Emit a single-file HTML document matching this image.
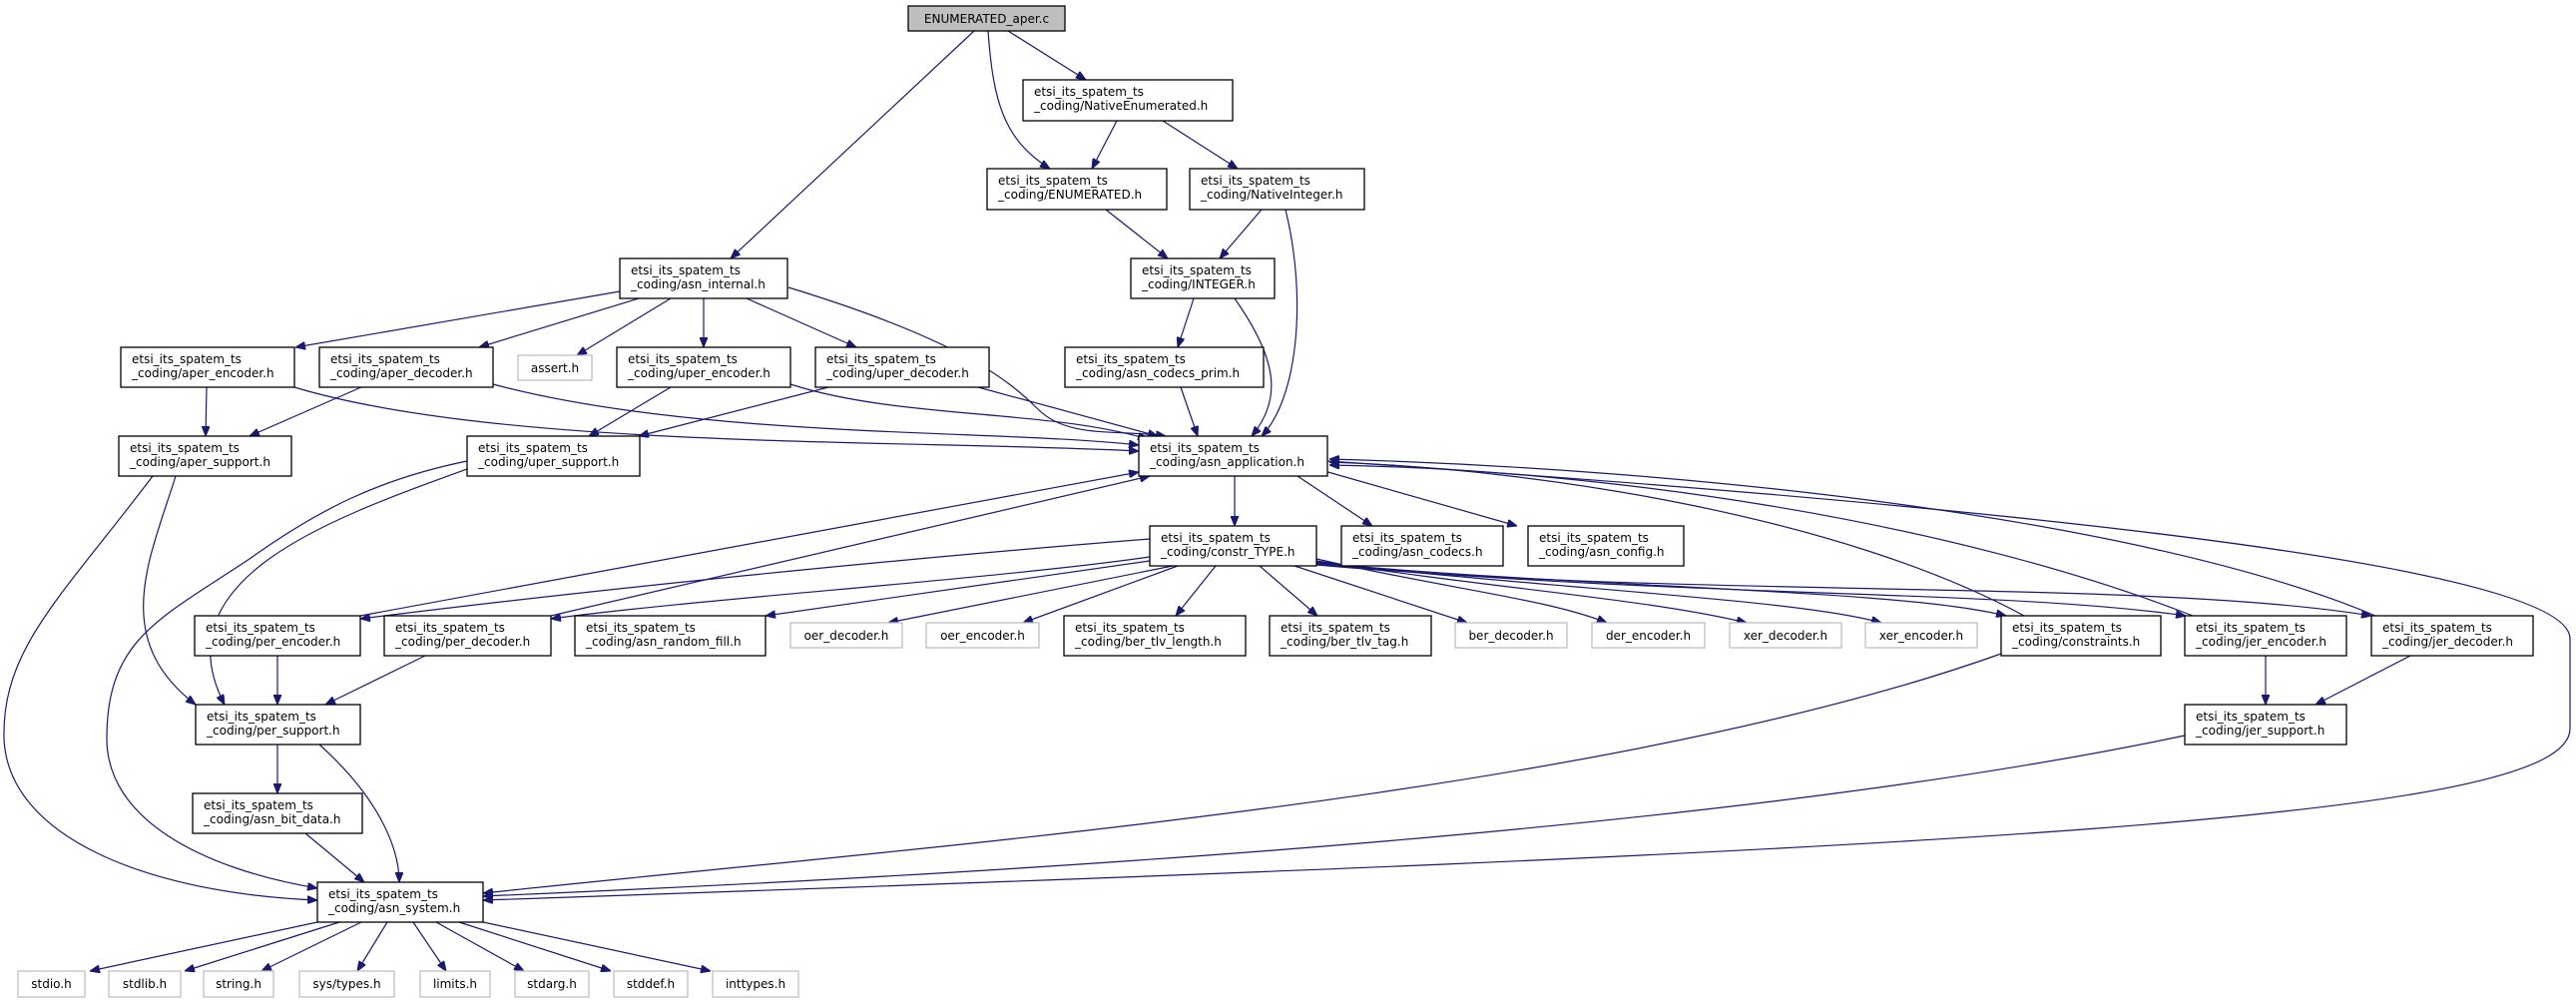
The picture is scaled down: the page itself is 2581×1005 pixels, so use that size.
<!DOCTYPE html>
<html><head><meta charset="utf-8"><style>
html,body{margin:0;padding:0;background:#fff;}
svg{display:block;}
text{font-family:"DejaVu Sans","Liberation Sans",sans-serif;font-size:12px;fill:#000;}
.e{fill:none;stroke:#191970;stroke-width:1.2;}
.n{fill:#fff;stroke:#000;stroke-width:1.3;}
.g{fill:#fff;stroke:#bfbfbf;stroke-width:1.3;}
</style></head><body>
<svg width="2581" height="1005" viewBox="0 0 2581 1005" xmlns="http://www.w3.org/2000/svg">
<defs>
<marker id="a" markerWidth="10" markerHeight="8" refX="10" refY="4" orient="auto" markerUnits="userSpaceOnUse">
<path d="M0,0 L10,4 L0,8 Z" fill="#191970" stroke="#191970"/>
</marker>
</defs>
<g marker-end="url(#a)">
<path class="e" d="M1010,31 L1088,80"/>
<path class="e" d="M990,31 C995,100 1005,140 1052,169"/>
<path class="e" d="M976,31 L732,259"/>
<path class="e" d="M1119,121 L1094,169"/>
<path class="e" d="M1165,121 L1240,169"/>
<path class="e" d="M1108,210 L1170,259"/>
<path class="e" d="M1264,210 L1222,259"/>
<path class="e" d="M1288,210 C1310,300 1300,400 1264,437"/>
<path class="e" d="M1196,299 L1180,348"/>
<path class="e" d="M1237,299 C1280,360 1285,400 1254,437"/>
<path class="e" d="M621,292 L296,348"/>
<path class="e" d="M640,299 L480,348"/>
<path class="e" d="M672,299 L578,356"/>
<path class="e" d="M705,299 L705,348"/>
<path class="e" d="M748,299 L858,348"/>
<path class="e" d="M790,288 C960,340 1010,380 1040,410 C1070,440 1120,430 1168,437"/>
<path class="e" d="M207,388 L206,437"/>
<path class="e" d="M295,388 C500,450 900,440 1141,452"/>
<path class="e" d="M362,388 L250,437"/>
<path class="e" d="M494,385 C700,440 1000,430 1141,446"/>
<path class="e" d="M672,388 L590,437"/>
<path class="e" d="M792,385 C900,420 1050,410 1150,440"/>
<path class="e" d="M830,388 L640,437"/>
<path class="e" d="M980,388 L1160,437"/>
<path class="e" d="M1183,388 L1200,437"/>
<path class="e" d="M153,477 C60,600 2,650 4,740 C8,840 150,895 318,902"/>
<path class="e" d="M468,462 C380,480 320,510 250,560 C160,620 107,640 107,740 C107,820 200,870 318,890"/>
<path class="e" d="M176,477 C150,560 110,640 196,706"/>
<path class="e" d="M468,470 C330,520 160,580 225,706"/>
<path class="e" d="M1237,477 L1237,527"/>
<path class="e" d="M1300,477 L1375,527"/>
<path class="e" d="M1320,470 L1520,527"/>
<path class="e" d="M1330,462 C1900,500 2575,560 2575,640 L2575,730 C2575,820 2000,850 484,902"/>
<path class="e" d="M2028,617 C1850,520 1550,470 1332,463"/>
<path class="e" d="M2197,617 C1950,520 1600,470 1332,466"/>
<path class="e" d="M2380,617 C2150,520 1700,470 1332,460"/>
<path class="e" d="M361,617 L1141,473"/>
<path class="e" d="M552,617 L1152,477"/>
<path class="e" d="M1152,540 C900,560 600,590 361,620"/>
<path class="e" d="M1152,558 C1000,580 700,600 552,620"/>
<path class="e" d="M1152,562 L767,617"/>
<path class="e" d="M1175,567 L890,624"/>
<path class="e" d="M1180,567 L1025,624"/>
<path class="e" d="M1218,567 L1178,617"/>
<path class="e" d="M1262,567 L1320,617"/>
<path class="e" d="M1297,567 L1470,624"/>
<path class="e" d="M1319,560 C1450,590 1550,600 1610,624"/>
<path class="e" d="M1319,562 C1500,590 1650,600 1750,624"/>
<path class="e" d="M1319,563 C1550,590 1800,600 1885,624"/>
<path class="e" d="M1319,564 C1600,590 1900,590 2010,617"/>
<path class="e" d="M1319,565 C1700,600 2000,590 2190,617"/>
<path class="e" d="M1319,566 C1700,600 2150,580 2376,617"/>
<path class="e" d="M278,657 L278,706"/>
<path class="e" d="M426,657 L326,706"/>
<path class="e" d="M278,746 L278,795"/>
<path class="e" d="M320,746 C380,800 400,850 400,884"/>
<path class="e" d="M306,835 L365,884"/>
<path class="e" d="M2005,655 C1600,800 900,850 484,895"/>
<path class="e" d="M2189,737 C1700,840 900,880 484,898"/>
<path class="e" d="M2270,657 L2270,706"/>
<path class="e" d="M2415,657 L2320,706"/>
<path class="e" d="M318,924 L90,973"/>
<path class="e" d="M340,924 L185,973"/>
<path class="e" d="M362,924 L262,973"/>
<path class="e" d="M388,924 L358,973"/>
<path class="e" d="M414,924 L447,973"/>
<path class="e" d="M437,924 L525,973"/>
<path class="e" d="M460,924 L612,973"/>
<path class="e" d="M484,924 L712,973"/>
</g>

<rect x="910" y="6" width="157" height="25" fill="#bfbfbf" stroke="#000" stroke-width="1.3"/>
<text x="988.5" y="23" text-anchor="middle">ENUMERATED_aper.c</text>

<g>
<rect class="n" x="1025" y="80" width="210" height="41"/><text x="1036" y="96">etsi_its_spatem_ts</text><text x="1036" y="110">_coding/NativeEnumerated.h</text>
<rect class="n" x="989" y="169" width="180" height="41"/><text x="1000" y="185">etsi_its_spatem_ts</text><text x="1000" y="199">_coding/ENUMERATED.h</text>
<rect class="n" x="1192" y="169" width="175" height="41"/><text x="1203" y="185">etsi_its_spatem_ts</text><text x="1203" y="199">_coding/NativeInteger.h</text>
<rect class="n" x="621" y="259" width="168" height="40"/><text x="632" y="275">etsi_its_spatem_ts</text><text x="632" y="289">_coding/asn_internal.h</text>
<rect class="n" x="1133" y="259" width="144" height="40"/><text x="1144" y="275">etsi_its_spatem_ts</text><text x="1144" y="289">_coding/INTEGER.h</text>
<rect class="n" x="121" y="348" width="174" height="40"/><text x="132" y="364">etsi_its_spatem_ts</text><text x="132" y="378">_coding/aper_encoder.h</text>
<rect class="n" x="320" y="348" width="174" height="40"/><text x="331" y="364">etsi_its_spatem_ts</text><text x="331" y="378">_coding/aper_decoder.h</text>
<rect class="g" x="519" y="356" width="74" height="25"/><text x="556" y="373" text-anchor="middle">assert.h</text>
<rect class="n" x="618" y="348" width="174" height="40"/><text x="629" y="364">etsi_its_spatem_ts</text><text x="629" y="378">_coding/uper_encoder.h</text>
<rect class="n" x="817" y="348" width="174" height="40"/><text x="828" y="364">etsi_its_spatem_ts</text><text x="828" y="378">_coding/uper_decoder.h</text>
<rect class="n" x="1067" y="348" width="199" height="40"/><text x="1078" y="364">etsi_its_spatem_ts</text><text x="1078" y="378">_coding/asn_codecs_prim.h</text>
<rect class="n" x="119" y="437" width="173" height="40"/><text x="130" y="453">etsi_its_spatem_ts</text><text x="130" y="467">_coding/aper_support.h</text>
<rect class="n" x="468" y="437" width="173" height="40"/><text x="479" y="453">etsi_its_spatem_ts</text><text x="479" y="467">_coding/uper_support.h</text>
<rect class="n" x="1141" y="437" width="189" height="40"/><text x="1152" y="453">etsi_its_spatem_ts</text><text x="1152" y="467">_coding/asn_application.h</text>
<rect class="n" x="1152" y="527" width="167" height="40"/><text x="1163" y="543">etsi_its_spatem_ts</text><text x="1163" y="557">_coding/constr_TYPE.h</text>
<rect class="n" x="1344" y="527" width="162" height="40"/><text x="1355" y="543">etsi_its_spatem_ts</text><text x="1355" y="557">_coding/asn_codecs.h</text>
<rect class="n" x="1531" y="527" width="156" height="40"/><text x="1542" y="543">etsi_its_spatem_ts</text><text x="1542" y="557">_coding/asn_config.h</text>
<rect class="n" x="195" y="617" width="166" height="40"/><text x="206" y="633">etsi_its_spatem_ts</text><text x="206" y="647">_coding/per_encoder.h</text>
<rect class="n" x="385" y="617" width="167" height="40"/><text x="396" y="633">etsi_its_spatem_ts</text><text x="396" y="647">_coding/per_decoder.h</text>
<rect class="n" x="576" y="617" width="191" height="40"/><text x="587" y="633">etsi_its_spatem_ts</text><text x="587" y="647">_coding/asn_random_fill.h</text>
<rect class="g" x="792" y="624" width="112" height="25"/><text x="848" y="641" text-anchor="middle">oer_decoder.h</text>
<rect class="g" x="928" y="624" width="113" height="25"/><text x="984.5" y="641" text-anchor="middle">oer_encoder.h</text>
<rect class="n" x="1066" y="617" width="182" height="40"/><text x="1077" y="633">etsi_its_spatem_ts</text><text x="1077" y="647">_coding/ber_tlv_length.h</text>
<rect class="n" x="1272" y="617" width="162" height="40"/><text x="1283" y="633">etsi_its_spatem_ts</text><text x="1283" y="647">_coding/ber_tlv_tag.h</text>
<rect class="g" x="1458" y="624" width="112" height="25"/><text x="1514" y="641" text-anchor="middle">ber_decoder.h</text>
<rect class="g" x="1595" y="624" width="113" height="25"/><text x="1651.5" y="641" text-anchor="middle">der_encoder.h</text>
<rect class="g" x="1733" y="624" width="112" height="25"/><text x="1789" y="641" text-anchor="middle">xer_decoder.h</text>
<rect class="g" x="1869" y="624" width="112" height="25"/><text x="1925" y="641" text-anchor="middle">xer_encoder.h</text>
<rect class="n" x="2005" y="617" width="160" height="40"/><text x="2016" y="633">etsi_its_spatem_ts</text><text x="2016" y="647">_coding/constraints.h</text>
<rect class="n" x="2189" y="617" width="162" height="40"/><text x="2200" y="633">etsi_its_spatem_ts</text><text x="2200" y="647">_coding/jer_encoder.h</text>
<rect class="n" x="2376" y="617" width="162" height="40"/><text x="2387" y="633">etsi_its_spatem_ts</text><text x="2387" y="647">_coding/jer_decoder.h</text>
<rect class="n" x="196" y="706" width="165" height="40"/><text x="207" y="722">etsi_its_spatem_ts</text><text x="207" y="736">_coding/per_support.h</text>
<rect class="n" x="2189" y="706" width="162" height="40"/><text x="2200" y="722">etsi_its_spatem_ts</text><text x="2200" y="736">_coding/jer_support.h</text>
<rect class="n" x="193" y="795" width="170" height="40"/><text x="204" y="811">etsi_its_spatem_ts</text><text x="204" y="825">_coding/asn_bit_data.h</text>
<rect class="n" x="318" y="884" width="166" height="40"/><text x="329" y="900">etsi_its_spatem_ts</text><text x="329" y="914">_coding/asn_system.h</text>
<rect class="g" x="18" y="973" width="67" height="26"/><text x="51.5" y="990" text-anchor="middle">stdio.h</text>
<rect class="g" x="109" y="973" width="72" height="26"/><text x="145" y="990" text-anchor="middle">stdlib.h</text>
<rect class="g" x="204" y="973" width="70" height="26"/><text x="239" y="990" text-anchor="middle">string.h</text>
<rect class="g" x="300" y="973" width="95" height="26"/><text x="347.5" y="990" text-anchor="middle">sys/types.h</text>
<rect class="g" x="421" y="973" width="70" height="26"/><text x="456" y="990" text-anchor="middle">limits.h</text>
<rect class="g" x="516" y="973" width="74" height="26"/><text x="553" y="990" text-anchor="middle">stdarg.h</text>
<rect class="g" x="615" y="973" width="74" height="26"/><text x="652" y="990" text-anchor="middle">stddef.h</text>
<rect class="g" x="714" y="973" width="86" height="26"/><text x="757" y="990" text-anchor="middle">inttypes.h</text>
</g>
</svg>
</body></html>
